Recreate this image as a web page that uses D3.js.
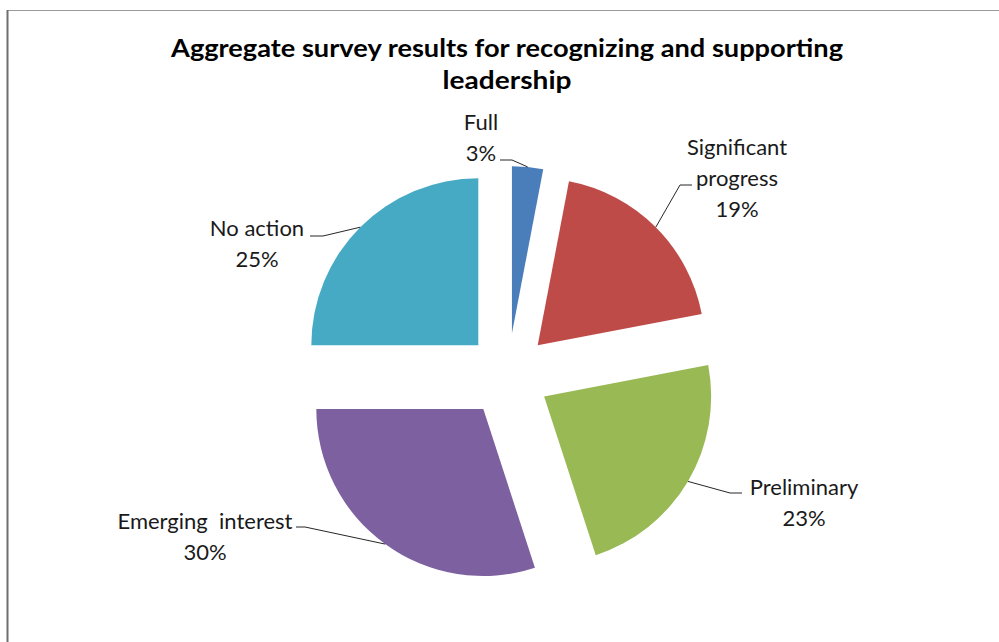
<!DOCTYPE html>
<html>
<head>
<meta charset="utf-8">
<script src="https://cdnjs.cloudflare.com/ajax/libs/d3/7.8.5/d3.min.js"></script>
<style>
  html, body { margin: 0; padding: 0; background: #ffffff; }
  svg { display: block; }
</style>
</head>
<body>
<svg id="chart" width="999" height="642"></svg>
<script>
// ---- data ----
const categories = ["Full", "Significant progress", "Preliminary", "Emerging interest", "No action"];
const values = [3, 19, 23, 30, 25];
const labelLines = [["Full"], ["Significant", "progress"], ["Preliminary"], ["Emerging  interest"], ["No action"]];
const colors = ["#4A7EBB", "#BE4B48", "#98B954", "#7D60A0", "#46AAC5"];
const titleLines = ["Aggregate survey results for recognizing and supporting", "leadership"];

// ---- layout (not data) ----
const titleWidths = [672, 129];
const labelLayout = [
  { x: 481, y: 122, elbow: [512, 160], end: [500, 160] },
  { x: 737, y: 147, elbow: [680, 185], end: [692, 185] },
  { x: 804, y: 487, elbow: [730, 493], end: [742, 493] },
  { x: 205, y: 521, elbow: [305, 527], end: [296, 527] },
  { x: 257, y: 228, elbow: [323, 236], end: [310, 236] }
];

const W = 999, H = 642;
const cx = 508, cy = 375, R = 167, explode = 42;
const lineH = 31;

const svg = d3.select("#chart");

// frame lines
svg.append("line").attr("x1", 7).attr("y1", 10.5).attr("x2", W).attr("y2", 10.5)
  .attr("stroke", "#9a9a9a").attr("stroke-width", 1);
svg.append("line").attr("x1", 7.5).attr("y1", 10).attr("x2", 7.5).attr("y2", H)
  .attr("stroke", "#6f6f6f").attr("stroke-width", 2);

// title
titleLines.forEach((t, i) => {
  svg.append("text")
    .attr("text-anchor", "middle")
    .attr("font-family", "Lato, 'Open Sans', sans-serif")
    .attr("font-weight", "bold")
    .attr("font-size", 25)
    .attr("fill", "#000")
    .attr("x", 507).attr("y", 57 + i * 32)
    .attr("textLength", titleWidths[i])
    .attr("lengthAdjust", "spacingAndGlyphs")
    .text(t);
});

// pie
const pie = d3.pie().sort(null).value(d => d)(values);
const arc = d3.arc().innerRadius(0).outerRadius(R);

const g = svg.append("g").attr("transform", `translate(${cx},${cy})`);

pie.forEach((p, i) => {
  const mid = (p.startAngle + p.endAngle) / 2;
  const dx = Math.sin(mid) * explode, dy = -Math.cos(mid) * explode;
  g.append("path")
    .attr("d", arc(p))
    .attr("transform", `translate(${dx},${dy})`)
    .attr("fill", colors[i])
    .attr("stroke", "none");

  // leader line: from arc midpoint to elbow to label end
  const ax = cx + dx + Math.sin(mid) * R;
  const ay = cy + dy - Math.cos(mid) * R;
  const L = labelLayout[i];
  svg.append("polyline")
    .attr("points", [[ax, ay], L.elbow, L.end].map(q => q.join(",")).join(" "))
    .attr("fill", "none")
    .attr("stroke", "#262626")
    .attr("stroke-width", 1);

  const lines = labelLines[i].concat([Math.round(values[i]) + "%"]);
  const t = svg.append("text")
    .attr("text-anchor", "middle")
    .attr("font-family", "Lato, 'Open Sans', sans-serif")
    .attr("font-size", 22)
    .attr("fill", "#1a1a1a")
    .attr("xml:space", "preserve");
  lines.forEach((s, j) => {
    t.append("tspan").attr("x", L.x).attr("y", L.y + j * lineH).attr("dy", "0.35em").text(s);
  });
});
</script>
</body>
</html>
